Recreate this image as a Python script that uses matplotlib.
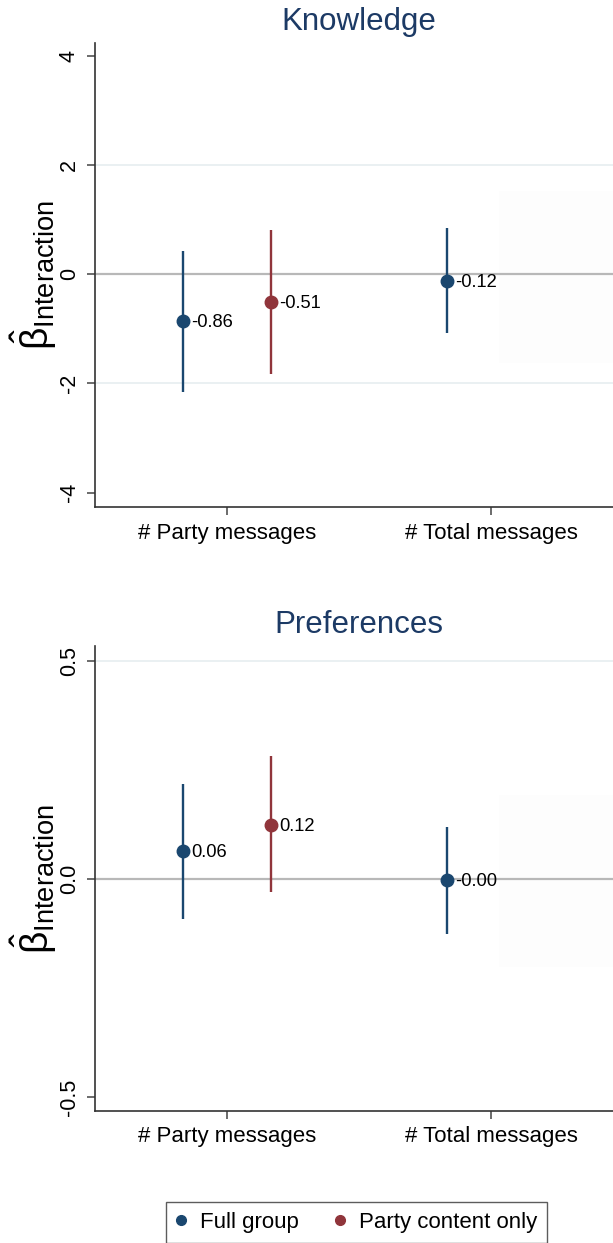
import matplotlib.pyplot as plt
from matplotlib.lines import Line2D
from matplotlib.patches import Rectangle

plt.rcParams['font.family'] = ['Liberation Sans', 'DejaVu Sans']
plt.rcParams['mathtext.fontset'] = 'custom'
plt.rcParams['mathtext.rm'] = 'Liberation Sans'
plt.rcParams['mathtext.it'] = 'Liberation Sans:italic'
plt.rcParams['axes.unicode_minus'] = False

categories = ['# Party messages', '# Total messages']
groups = ['Full group', 'Party content only']

# Knowledge panel (full group: both categories, party content: first only)
know_full = [-0.86, -0.12]
know_full_lo = [-2.15, -1.07]
know_full_hi = [0.43, 0.84]
know_party = [-0.51]
know_party_lo = [-1.83]
know_party_hi = [0.81]
know_ticks = [4, 2, 0, -2, -4]
know_ticklabels = ['4', '2', '0', '-2', '-4']

# Preferences panel
pref_full = [0.064, -0.003]
pref_full_lo = [-0.091, -0.125]
pref_full_hi = [0.219, 0.120]
pref_party = [0.124]
pref_party_lo = [-0.029]
pref_party_hi = [0.282]
pref_ticks = [0.5, 0.0, -0.5]
pref_ticklabels = ['0.5', '0.0', '-0.5']

NAVY = '#1a476f'
MAROON = '#90353b'
TITLE_C = '#1c3a65'
OFF = 0.1667


def draw_panel(ax, title, full, full_lo, full_hi, party, party_lo, party_hi,
               ticks, ticklabels, grid_vals, ylim):
    pos = list(range(1, len(categories) + 1))
    xf = [p - OFF for p in pos[:len(full)]]
    xp = [p + OFF for p in pos[:len(party)]]

    for g in grid_vals:
        ax.axhline(g, color='#e6eef0', lw=1.2, zorder=0)
    ax.axhline(0, color='#b8b8b8', lw=1.6, zorder=1)
    # faint ghost box at the right edge of the plot area
    ax.add_patch(Rectangle((0.765, 0.31), 0.25, 0.37, transform=ax.transAxes,
                           color='#fdfdfd', zorder=0.5, lw=0))

    ax.vlines(xf, full_lo, full_hi, color=NAVY, lw=1.7, zorder=2)
    ax.plot(xf, full, 'o', color=NAVY, ms=9, zorder=3)
    ax.vlines(xp, party_lo, party_hi, color=MAROON, lw=1.7, zorder=2)
    ax.plot(xp, party, 'o', color=MAROON, ms=9, zorder=3)

    for x, v in list(zip(xf, full)) + list(zip(xp, party)):
        ax.annotate(f'{v:.2f}', (x, v), xytext=(6, -1), textcoords='offset points',
                    ha='left', va='center', fontsize=13.2)

    ax.set_xlim(0.5, 2.5)
    ax.set_ylim(*ylim)
    ax.set_xticks(pos)
    ax.set_xticklabels(categories, fontsize=16)
    ax.set_yticks(ticks)
    ax.set_yticklabels(ticklabels, fontsize=15.5, rotation=90, va='center')
    ax.tick_params(axis='both', length=6, width=1.1, color='#444444', pad=5)
    ax.tick_params(axis='x', pad=5)

    for s in ['top', 'right']:
        ax.spines[s].set_visible(False)
    for s in ['left', 'bottom']:
        ax.spines[s].set_color('#333333')
        ax.spines[s].set_linewidth(1.2)

    ax.set_title(title, fontsize=22.5, color=TITLE_C, pad=9)
    ax.set_ylabel(r'$\hat{\mathrm{\beta}}_{\mathrm{Interaction}}$', fontsize=28, labelpad=0)


fig = plt.figure(figsize=(6.13, 12.43), dpi=100)
ax1 = fig.add_axes([95 / 613, 1 - 507.3 / 1243, 528 / 613, 464.6 / 1243])
ax2 = fig.add_axes([95 / 613, 1 - 1111 / 1243, 528 / 613, 465 / 1243])

draw_panel(ax1, 'Knowledge', know_full, know_full_lo, know_full_hi,
           know_party, know_party_lo, know_party_hi,
           know_ticks, know_ticklabels, [2, -2], (-4.27, 4.245))
draw_panel(ax2, 'Preferences', pref_full, pref_full_lo, pref_full_hi,
           pref_party, pref_party_lo, pref_party_hi,
           pref_ticks, pref_ticklabels, [0.5], (-0.531, 0.534))

handles = [Line2D([], [], marker='o', ls='', color=NAVY, ms=7),
           Line2D([], [], marker='o', ls='', color=MAROON, ms=7)]
leg = fig.legend(handles, groups, loc='upper center', bbox_to_anchor=(0.5816, 1 - 1202 / 1243),
                 ncol=2, fontsize=16, frameon=True, fancybox=False, handlelength=0.5,
                 handletextpad=0.6, columnspacing=1.6, borderpad=0.45, borderaxespad=0)
leg.get_frame().set_edgecolor('#333333')
leg.get_frame().set_linewidth(1.0)

fig.savefig('out.png', dpi=100)
